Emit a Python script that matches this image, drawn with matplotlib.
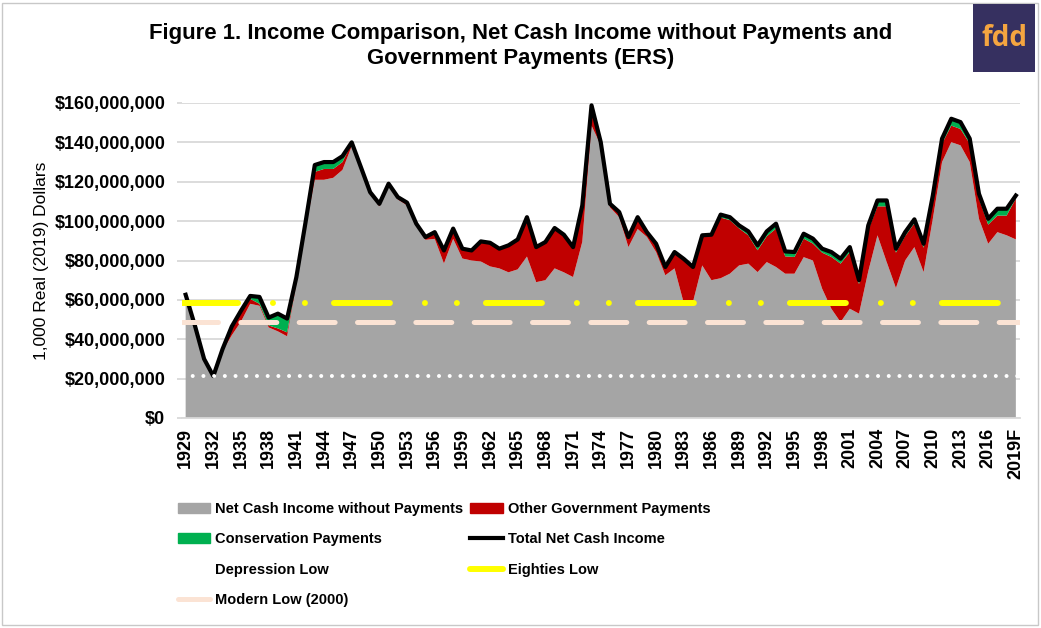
import matplotlib

matplotlib.use("Agg")
import matplotlib.pyplot as plt
import numpy as np
from matplotlib.lines import Line2D
from matplotlib.patches import Patch, Rectangle
from matplotlib.ticker import FuncFormatter

plt.rcParams["font.family"] = ["Liberation Sans", "DejaVu Sans"]
plt.rcParams["lines.scale_dashes"] = False

# 1929 .. 2019F, values in millions of (1,000 real 2019 dollars)
years = list(range(1929, 2020))
year_labels = [str(y) for y in years[:-1]] + ["2019F"]

net_no_payments = [
    62.6, 47.0, 30.0, 21.3, 34.0, 42.0, 49.0, 58.0, 57.0, 46.0,   # 1929-1938
    44.0, 41.5, 68.0, 96.0, 121.0, 121.0, 122.0, 126.0, 138.0, 126.5,  # 1939-1948
    113.5, 107.5, 118.0, 111.0, 108.0, 97.5, 90.5, 91.0, 78.5, 91.0,  # 1949-1958
    81.0, 80.0, 79.5, 77.0, 76.0, 74.0, 75.5, 82.0, 69.0, 70.0,   # 1959-1968
    76.0, 74.0, 71.6, 89.5, 148.5, 138.5, 107.0, 102.0, 86.8, 96.0,  # 1969-1978
    92.0, 84.3, 72.5, 76.0, 58.4, 59.0, 77.5, 70.0, 71.0, 73.3,   # 1979-1988
    77.5, 78.4, 74.1, 79.2, 76.7, 73.3, 73.3, 81.7, 80.0, 65.7,   # 1989-1998
    55.5, 48.7, 55.5, 53.0, 74.5, 92.8, 79.2, 66.0, 80.0, 86.8,   # 1999-2008
    74.1, 101.2, 130.0, 140.1, 138.5, 130.0, 101.2, 88.5, 94.4, 92.8,  # 2009-2018
    90.7,                                                           # 2019F
]
other_gov_payments = [
    0.0, 0.0, 0.0, 0.0, 1.0, 4.0, 4.5, 2.5, 1.0, 1.0,
    1.5, 2.0, 1.0, 1.5, 4.0, 5.5, 4.5, 4.0, 1.5, 0.5,
    1.0, 1.0, 0.7, 0.8, 1.0, 0.8, 1.0, 3.0, 6.0, 4.5,
    4.5, 4.6, 9.7, 11.5, 9.5, 13.2, 14.7, 19.5, 17.3, 19.0,
    20.1, 18.7, 14.8, 18.1, 10.0, 1.3, 1.5, 2.3, 4.8, 5.7,
    2.1, 3.9, 3.9, 8.0, 22.1, 17.4, 15.0, 22.8, 30.8, 27.2,
    18.8, 14.4, 11.1, 13.1, 19.5, 8.8, 8.5, 9.4, 8.6, 18.3,
    26.3, 29.7, 28.8, 15.0, 21.0, 14.7, 28.3, 18.0, 12.4, 12.1,
    12.4, 9.8, 9.4, 8.4, 8.3, 9.4, 10.2, 9.7, 8.4, 10.0,
    20.8,
]
conservation_payments = [
    0.0, 0.0, 0.0, 0.0, 0.0, 0.5, 1.0, 1.5, 3.5, 4.0,
    7.5, 7.0, 2.5, 2.0, 3.5, 3.5, 3.5, 3.0, 0.5, 0.4,
    0.2, 0.3, 0.3, 0.4, 0.4, 0.4, 0.4, 0.4, 0.6, 0.7,
    0.5, 0.5, 0.5, 0.5, 0.5, 0.5, 0.5, 0.5, 0.5, 0.4,
    0.4, 0.4, 0.4, 0.4, 0.3, 0.3, 0.3, 0.3, 0.3, 0.3,
    0.3, 0.3, 0.3, 0.3, 0.3, 0.3, 0.3, 0.3, 1.5, 1.5,
    1.5, 2.0, 2.5, 2.5, 2.5, 2.5, 2.5, 2.5, 2.5, 2.0,
    2.5, 2.5, 2.5, 2.0, 2.3, 3.0, 3.0, 2.0, 2.0, 2.0,
    2.0, 2.0, 2.5, 3.5, 3.5, 2.5, 2.5, 3.0, 3.5, 3.5,
    1.5,
]

net = np.array(net_no_payments)
other = np.array(other_gov_payments)
cons = np.array(conservation_payments)
total = net + other + cons

depression_low = net[years.index(1932)]
eighties_low = net[years.index(1980):years.index(1990)].min()
modern_low = net[years.index(2000)]

GRAY = "#a5a5a5"
RED = "#c00000"
GREEN = "#00b050"
YELLOW = "#ffff00"
PEACH = "#fbe3d4"
GRID = "#d9d9d9"

W, H = 1041, 628
fig = plt.figure(figsize=(W / 100, H / 100), dpi=100)


def fx(px):
    return px / W


def fy(py):
    return 1 - py / H


ax = fig.add_axes([fx(181.5), fy(418), fx(1020) - fx(181.5), fy(103) - fy(418)])

x = np.arange(len(years))
ax.stackplot(x, net, other, cons, colors=[GRAY, RED, GREEN], linewidth=0, zorder=2)
ax.plot(x, total, color="black", lw=3, solid_joinstyle="round", zorder=3)

# reference lows drawn across the whole plot
ax.axhline(depression_low, color="white", lw=2.9, dashes=(0.01, 7.7),
           dash_capstyle="round", zorder=4)
ax.axhline(eighties_low, color=YELLOW, lw=4.3, dashes=(40.3, 25.2, 0.01, 23.0, 0.01, 20.9),
           dash_capstyle="round", zorder=4)
ax.axhline(modern_low, color=PEACH, lw=3.6, dashes=(25.9, 16.1),
           dash_capstyle="round", zorder=4)

ax.set_xlim(-0.45, len(years) - 0.55)
ax.set_ylim(0, 160)
ax.set_yticks(np.arange(0, 161, 20))
ax.yaxis.set_major_formatter(FuncFormatter(lambda v, _: f"${v * 1e6:,.0f}"))
ax.set_xticks(x[::3])
ax.set_xticklabels(year_labels[::3], rotation=90)
ax.grid(axis="y", color=GRID, lw=1.3, zorder=0)
ax.set_axisbelow(True)
for side in ["top", "right", "left"]:
    ax.spines[side].set_visible(False)
ax.spines["bottom"].set_color(GRID)
ax.spines["bottom"].set_linewidth(1.3)
ax.tick_params(axis="y", length=3.6, color=GRID, width=1.3, pad=8)
ax.tick_params(axis="x", length=0, pad=7)
for lab in ax.get_xticklabels() + ax.get_yticklabels():
    lab.set_fontweight("bold")
    lab.set_fontsize(13)

ax.set_ylabel("1,000 Real (2019) Dollars", fontsize=12.5)
ax.yaxis.set_label_coords(-0.158, 0.5)

fig.text(0.5, fy(46), "Figure 1. Income Comparison, Net Cash Income without Payments and\n"
         "Government Payments (ERS)", ha="center", va="center", fontsize=15.9,
         fontweight="bold", linespacing=1.25)

# legend: first column then second column
handles = [
    Patch(color=GRAY),
    Patch(color=GREEN),
    Line2D([], [], color="white", lw=2.9, dashes=(0.01, 7.7), dash_capstyle="round"),
    Line2D([], [], color=PEACH, lw=3.6, solid_capstyle="round"),
    Patch(color=RED),
    Line2D([], [], color="black", lw=3),
    Line2D([], [], color=YELLOW, lw=4.3, solid_capstyle="round"),
]
labels = [
    "Net Cash Income without Payments",
    "Conservation Payments",
    "Depression Low",
    "Modern Low (2000)",
    "Other Government Payments",
    "Total Net Cash Income",
    "Eighties Low",
]
fig.legend(handles, labels, ncol=2, loc="upper left", bbox_to_anchor=(fx(178), fy(502)),
           frameon=False, borderpad=0, borderaxespad=0, handlelength=2.2, handleheight=0.69,
           handletextpad=0.34, labelspacing=1.12, columnspacing=0.5,
           prop={"weight": "bold", "size": 10.5})

# border and logo
fig.patches.append(Rectangle((fx(2), fy(625)), fx(1038) - fx(2), fy(3) - fy(625),
                             transform=fig.transFigure, fill=False, edgecolor="#c8c8c8", lw=1))
fig.patches.append(Rectangle((fx(973), fy(72)), fx(1035) - fx(973), fy(4) - fy(72),
                             transform=fig.transFigure, facecolor="#363060", edgecolor="none",
                             zorder=5))
fig.text(fx(1004), fy(39), "fdd", ha="center", va="center", fontsize=20, fontweight="bold",
         color="#f5a540", family=["Open Sans", "DejaVu Sans"], zorder=6)

fig.savefig("out.png", dpi=100)
